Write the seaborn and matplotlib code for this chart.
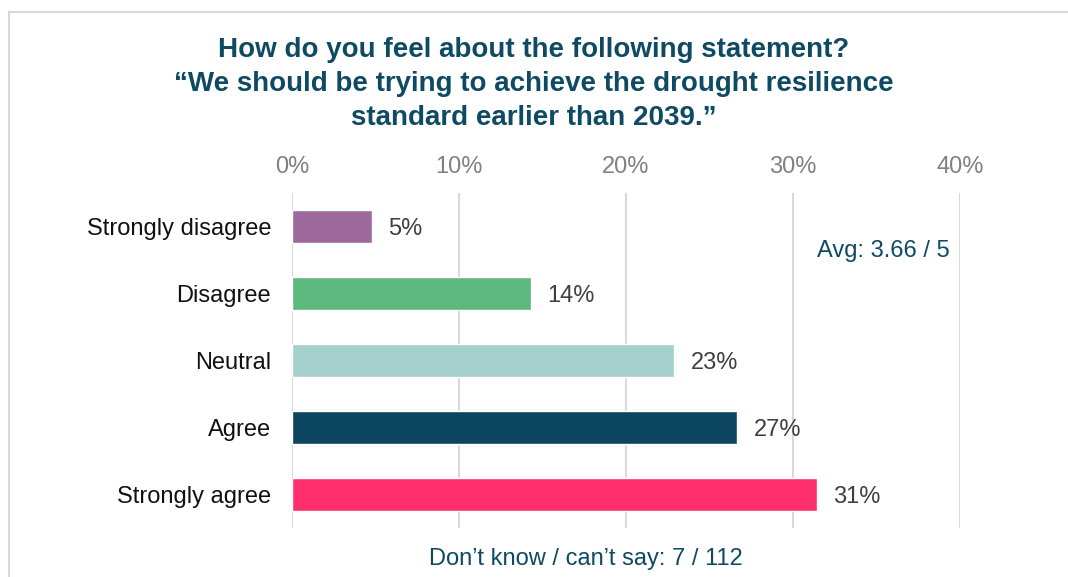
import matplotlib
matplotlib.use("Agg")
import matplotlib.pyplot as plt
import seaborn as sns
import pandas as pd
from matplotlib.patches import Rectangle

categories = ["Strongly disagree", "Disagree", "Neutral", "Agree", "Strongly agree"]
counts = [5, 15, 24, 28, 33]
colors = ["#9E6A9E", "#5DB87D", "#A6D0CD", "#0B455F", "#FF2F6E"]
tick_values = [0, 10, 20, 30, 40]
tick_labels = ["0%", "10%", "20%", "30%", "40%"]
dont_know = 7
total = 112

answered = sum(counts)
percents = [100 * c / answered for c in counts]
average = sum((i + 1) * c for i, c in enumerate(counts)) / answered

df = pd.DataFrame({"response": categories, "percent": percents})

sns.set_theme(style="white")
plt.rcParams["font.family"] = ["Liberation Sans", "DejaVu Sans"]

teal = "#0E4A63"
fig = plt.figure(figsize=(10.68, 5.77), dpi=100)
ax = fig.add_axes([292 / 1068, 1 - 528 / 577, (960 - 292) / 1068, (528 - 193) / 577])

sns.barplot(data=df, x="percent", y="response", hue="response", palette=colors,
            order=categories, hue_order=categories, width=0.5, legend=False,
            saturation=1, ax=ax)

ax.set_xlim(0, 40)
ax.set_ylim(4.5, -0.5)
ax.set_xticks(tick_values)
ax.set_xticklabels(tick_labels)
ax.xaxis.tick_top()
ax.tick_params(axis="x", length=0, pad=11, labelsize=17, labelcolor="#808080")
ax.tick_params(axis="y", length=0, pad=15, labelsize=17, labelcolor="#111111")
ax.set_xlabel("")
ax.set_ylabel("")
ax.grid(axis="x", color="#D9D9D9", linewidth=1.5)
ax.set_axisbelow(True)
for s in ax.spines.values():
    s.set_visible(False)

for i, p in enumerate(percents):
    ax.text(p + 1.0, i, f"{p:.0f}%", va="center_baseline", ha="left", fontsize=17,
            color="#404040")

fig.text(0.5, 1 - 37 / 577,
         "How do you feel about the following statement?\n"
         "\u201cWe should be trying to achieve the drought resilience\n"
         "standard earlier than 2039.\u201d",
         ha="center", va="top", fontsize=20, fontweight="bold", color=teal,
         linespacing=1.4)

fig.text(883 / 1068, 1 - 249 / 577, f"Avg: {average:.2f} / 5", ha="center",
         va="center_baseline", fontsize=17, color=teal)
fig.text(586 / 1068, 1 - 557 / 577, f"Don\u2019t know / can\u2019t say: {dont_know} / {total}",
         ha="center", va="center_baseline", fontsize=17, color=teal)

fig.patches.append(Rectangle((9 / 1068, -0.1), 1.2, 1.1 - 12 / 577,
                             transform=fig.transFigure, fill=False,
                             edgecolor="#D9D9D9", linewidth=1.5))

fig.savefig("out.png", dpi=100)
